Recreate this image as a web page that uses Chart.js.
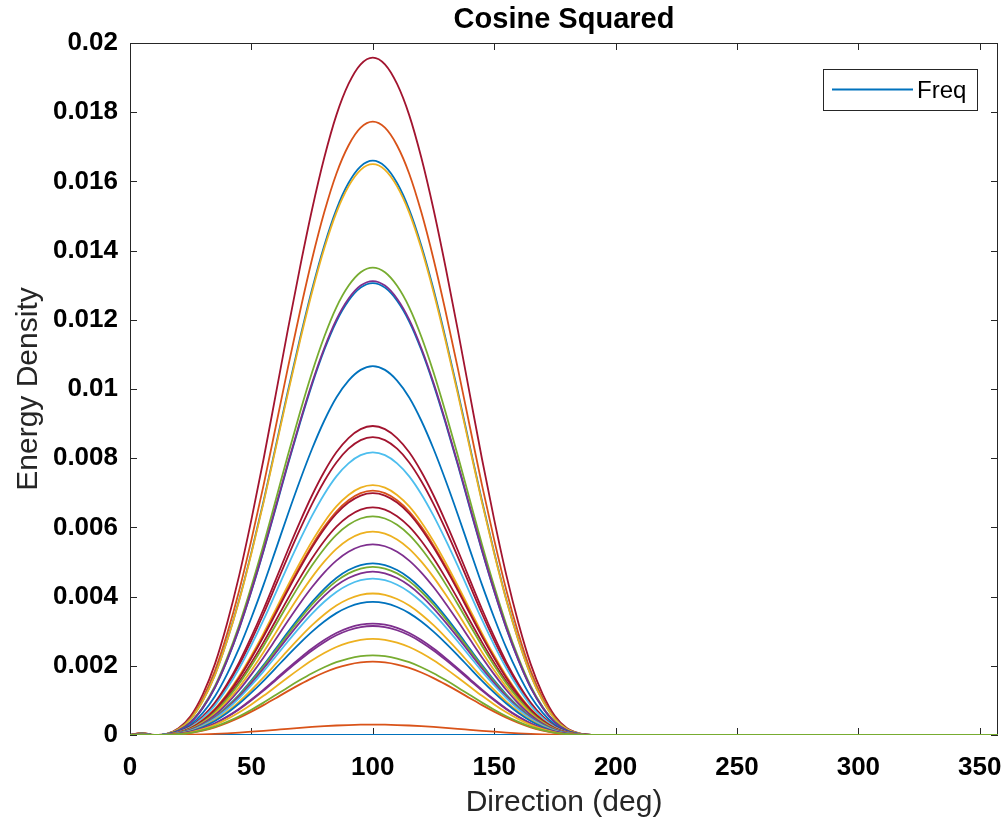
<!DOCTYPE html>
<html>
<head>
<meta charset="utf-8">
<title>Cosine Squared</title>
<script src="https://cdn.jsdelivr.net/npm/chart.js@4.4.1/dist/chart.umd.min.js"></script>
<style>
  body { margin: 0; background: #fff; }
  #wrap { width: 1005px; height: 824px; }
</style>
</head>
<body>
<div id="wrap"><canvas id="spread" width="1005" height="824"></canvas></div>
<script>
// direction bins (deg)
const directions = [
  0, 5, 10, 15, 20, 25, 30, 35, 40, 45, 50, 55, 60, 65, 70, 75, 80, 85, 90, 95,
  100, 105, 110, 115, 120, 125, 130, 135, 140, 145, 150, 155, 160, 165, 170, 175, 180, 185, 190, 195,
  200, 205, 210, 215, 220, 225, 230, 235, 240, 245, 250, 255, 260, 265, 270, 275, 280, 285, 290, 295,
  300, 305, 310, 315, 320, 325, 330, 335, 340, 345, 350, 355, 357.5
];

// spreading shape, relative to the value at the mean direction (100 deg)
const spreadShape = [
  0, 0.003, 0, 0.0015, 0.010, 0.028, 0.060, 0.105, 0.165, 0.236, 0.318, 0.407, 0.502, 0.598, 0.690, 0.776, 0.852, 0.915, 0.961, 0.990,
  1, 0.990, 0.961, 0.915, 0.852, 0.776, 0.690, 0.598, 0.502, 0.407, 0.318, 0.236, 0.165, 0.105, 0.060, 0.028, 0.010, 0.0025, 0, 0,
  0, 0, 0, 0, 0, 0, 0, 0, 0, 0, 0, 0, 0, 0, 0, 0, 0, 0, 0, 0,
  0, 0, 0, 0, 0, 0, 0, 0, 0, 0, 0, 0, 0
];

// peak energy density of each frequency line
const peakDensity = [
  0, 0.00030, 0.01958, 0.01773, 0.01660, 0.01650, 0.01351, 0.01306, 0.01312, 0.01066,
  0.00893, 0.00861, 0.00817, 0.00722, 0.00706, 0.00699, 0.00658, 0.00632, 0.00588, 0.00551,
  0.00496, 0.00486, 0.00472, 0.00452, 0.00409, 0.00385, 0.00322, 0.00315, 0.00278, 0.00212,
  0.00230
];

const BLUE = '#0072BD', ORANGE = '#D95319', YELLOW = '#EDB120', PURPLE = '#7E2F8E',
      GREEN = '#77AC30', LIGHTBLUE = '#4DBEEE', DARKRED = '#A2142F';

const lineColors = [
  BLUE, ORANGE, DARKRED, ORANGE, BLUE, YELLOW, GREEN, BLUE, PURPLE, BLUE,
  DARKRED, DARKRED, LIGHTBLUE, YELLOW, ORANGE, DARKRED, DARKRED, GREEN, YELLOW, PURPLE,
  BLUE, GREEN, PURPLE, LIGHTBLUE, YELLOW, BLUE, PURPLE, PURPLE, YELLOW, ORANGE,
  GREEN
];

const xTicks = [0, 50, 100, 150, 200, 250, 300, 350];
const yTicks = [0, 0.002, 0.004, 0.006, 0.008, 0.01, 0.012, 0.014, 0.016, 0.018, 0.02];

const FONT = "'Liberation Sans', Arial, sans-serif";
const AXIS_COLOR = '#262626';

const datasets = peakDensity.map((peak, i) => ({
  label: i === 0 ? 'Freq' : 'Freq ' + (i + 1),
  data: directions.map((d, k) => ({ x: d, y: peak * spreadShape[k] })),
  borderColor: lineColors[i],
  borderWidth: 1.8,
  pointRadius: 0,
  fill: false,
  tension: 0,
  cubicInterpolationMode: 'monotone',
  order: -i // later lines are drawn over earlier ones
}));

// box and inward ticks go under the lines
const matlabBox = {
  id: 'matlabBox',
  beforeDatasetsDraw(chart) {
    const ctx = chart.ctx;
    const a = chart.chartArea;
    const xs = chart.scales.x, ys = chart.scales.y;
    const tl = 7;
    ctx.save();
    ctx.strokeStyle = AXIS_COLOR;
    ctx.lineWidth = 1;
    ctx.strokeRect(a.left + 0.5, a.top + 0.5, a.right - a.left - 1, a.bottom - a.top - 1);

    ctx.beginPath();
    xTicks.forEach(v => {
      const px = Math.round(xs.getPixelForValue(v)) + 0.5;
      ctx.moveTo(px, a.bottom); ctx.lineTo(px, a.bottom - tl);
      ctx.moveTo(px, a.top); ctx.lineTo(px, a.top + tl);
    });
    yTicks.forEach(v => {
      const py = Math.round(ys.getPixelForValue(v)) + 0.5;
      ctx.moveTo(a.left, py); ctx.lineTo(a.left + tl, py);
      ctx.moveTo(a.right, py); ctx.lineTo(a.right - tl, py);
    });
    ctx.stroke();
    ctx.restore();
  }
};

// title, axis labels and the legend box
const matlabText = {
  id: 'matlabText',
  afterDraw(chart) {
    const ctx = chart.ctx;
    const a = chart.chartArea;
    ctx.save();
    ctx.fillStyle = '#000';
    ctx.textAlign = 'center';
    ctx.textBaseline = 'middle';
    ctx.font = 'bold 29px ' + FONT;
    ctx.fillText('Cosine Squared', (a.left + a.right) / 2, 20);

    ctx.font = '30px ' + FONT;
    ctx.fillStyle = '#262626';
    ctx.fillText('Direction (deg)', (a.left + a.right) / 2, 803);
    ctx.save();
    ctx.translate(29, (a.top + a.bottom) / 2);
    ctx.rotate(-Math.PI / 2);
    ctx.fillText('Energy Density', 0, 0);
    ctx.restore();

    // legend, first line only
    const lx = 823, ly = 69, lw = 154, lh = 41;
    ctx.fillStyle = '#fff';
    ctx.fillRect(lx, ly, lw, lh);
    ctx.strokeStyle = AXIS_COLOR;
    ctx.lineWidth = 1;
    ctx.strokeRect(lx + 0.5, ly + 0.5, lw, lh);
    ctx.strokeStyle = chart.data.datasets[0].borderColor;
    ctx.lineWidth = 1.8;
    ctx.beginPath();
    ctx.moveTo(832, 89.5); ctx.lineTo(913, 89.5);
    ctx.stroke();
    ctx.fillStyle = '#000';
    ctx.textAlign = 'left';
    ctx.font = '24px ' + FONT;
    ctx.fillText(chart.data.datasets[0].label, 917, 91);
    ctx.restore();
  }
};

new Chart(document.getElementById('spread'), {
  type: 'line',
  data: { datasets },
  options: {
    responsive: false,
    animation: false,
    layout: { padding: { top: 43, right: 7, left: 0, bottom: 0 } },
    plugins: {
      legend: { display: false },
      title: { display: false },
      tooltip: { enabled: false }
    },
    scales: {
      x: {
        type: 'linear',
        min: 0,
        max: 357.5,
        afterBuildTicks: s => { s.ticks = xTicks.map(v => ({ value: v })); },
        afterFit: s => { s.height = 89; s.paddingLeft = 0; s.paddingRight = 0; },
        grid: { display: false, drawTicks: false },
        border: { display: false },
        ticks: {
          padding: 17,
          maxRotation: 0,
          autoSkip: false,
          color: '#000',
          font: { family: FONT, size: 26, weight: 'bold' }
        }
      },
      y: {
        min: 0,
        max: 0.02,
        afterBuildTicks: s => { s.ticks = yTicks.map(v => ({ value: v })); },
        afterFit: s => { s.width = 130; s.paddingTop = 0; s.paddingBottom = 0; },
        grid: { display: false, drawTicks: false },
        border: { display: false },
        ticks: {
          padding: 12,
          autoSkip: false,
          color: '#000',
          font: { family: FONT, size: 26, weight: 'bold' },
          callback: v => v === 0 ? '0' : String(parseFloat(v.toFixed(4)))
        }
      }
    }
  },
  plugins: [matlabBox, matlabText]
});
</script>
</body>
</html>
